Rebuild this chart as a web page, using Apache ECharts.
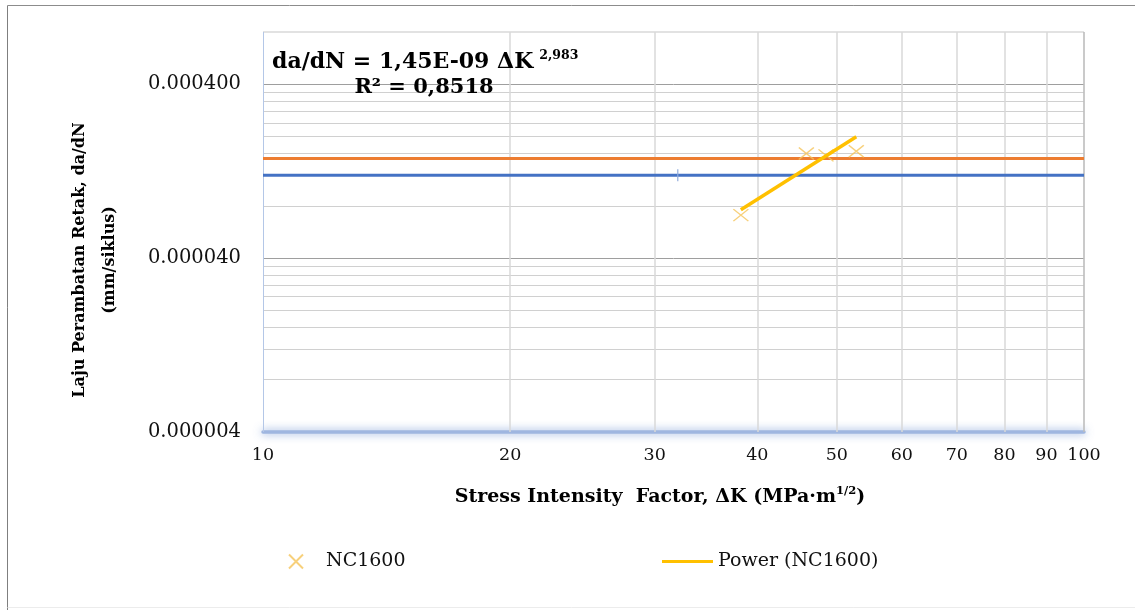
<!DOCTYPE html>
<html>
<head>
<meta charset="utf-8">
<script src="https://cdn.jsdelivr.net/npm/echarts@6/dist/echarts.min.js"></script>
<style>
  html, body { margin: 0; padding: 0; background: #fff; }
  #chart { width: 1135px; height: 610px; }
</style>
</head>
<body>
<div id="chart"></div>
<script>
// Stress intensity range ΔK (MPa·m^1/2) and crack growth rate da/dN (mm/siklus)
const dkTicks = [10, 20, 30, 40, 50, 60, 70, 80, 90, 100];
const rateTicks = [0.000004, 0.00004, 0.0004];
const rateTickLabels = ['0.000004', '0.000040', '0.000400'];
const rateMax = 0.0008;

// NC1600 measurements
const nc1600Dk = [38.2, 45.9, 48.5, 52.8];
const nc1600Rate = [0.0000707, 0.000160, 0.000156, 0.000165];

// Power trend line: da/dN = C · ΔK^m over the measured range
const powerC = 1.45e-9;
const powerM = 2.983;
const powerR2 = '0,8518';
const powerRange = [38.2, 52.8];

// Reference levels
const levelOrange = 0.00015;
const levelBlue = 0.00012;
const levelRange = [10, 100];
const markerBlue = [32, 0.00012];

const serif = 'DejaVu Serif';
const dkMin = dkTicks[0];
const dkMax = dkTicks[dkTicks.length - 1];

// text width helper for placing superscripts
const measureCtx = document.createElement('canvas').getContext('2d');
function textWidth(str, size, weight) {
  measureCtx.font = (weight || 'normal') + ' ' + size + 'px "' + serif + '"';
  return measureCtx.measureText(str).width;
}

// gridlines: minor steps inside each decade
const minorRates = [];
[0.000004, 0.00004].forEach(function (base) {
  for (let k = 2; k <= 9; k++) minorRates.push(+(base * k).toPrecision(3));
});

function hLine(v, style, label) {
  return [
    { coord: [dkMin, v], lineStyle: style, label: label || { show: false } },
    { coord: [dkMax, v] }
  ];
}
function vLine(v, style, label) {
  return [
    { coord: [v, rateTicks[0]], lineStyle: style, label: label || { show: false } },
    { coord: [v, rateMax] }
  ];
}

const gridLines = [];
minorRates.forEach(function (v) {
  gridLines.push(hLine(v, { color: '#d0d0d0', width: 1.2, type: 'solid' }));
});
gridLines.push(hLine(rateMax, { color: '#d9d9d9', width: 1.5, type: 'solid' }));
rateTicks.forEach(function (v, i) {
  gridLines.push(hLine(v, { color: i === 0 ? 'rgba(0,0,0,0)' : '#9e9e9e', width: 1, type: 'solid' }, {
    show: true, position: 'start', formatter: rateTickLabels[i], distance: 22,
    fontFamily: serif, fontSize: 19.5, color: '#111'
  }));
});
dkTicks.forEach(function (v, i) {
  const first = i === 0, last = i === dkTicks.length - 1;
  gridLines.push(vLine(v, {
    color: first ? '#b4c7e7' : (last ? '#bdbdbd' : '#d9d9d9'),
    width: first ? 1 : (last ? 1.6 : 1.5), type: 'solid'
  }, {
    show: true, position: 'start', formatter: String(v), distance: 14,
    fontFamily: serif, fontSize: 17.5, color: '#111'
  }));
});

const nc1600 = nc1600Dk.map(function (d, i) { return [d, nc1600Rate[i]]; });
const powerLine = powerRange.map(function (d) { return [d, powerC * Math.pow(d, powerM)]; });

// equation and axis title pieces
const eqMain = 'da/dN = 1,45E-09 ΔK';
const eqExp = String(powerM).replace('.', ',');
const eqSize = 22;
const eqMainW = textWidth(eqMain, eqSize, 'bold');
const xTitleMain = 'Stress Intensity  Factor, ΔK (MPa·m';
const xTitleSup = '1/2';
const xTitleEnd = ')';
const xTitleSize = 19, xTitleSupSize = 11.5;
const wMain = textWidth(xTitleMain, xTitleSize, 'bold');
const wSup = textWidth(xTitleSup, xTitleSupSize, 'bold');
const wEnd = textWidth(xTitleEnd, xTitleSize, 'bold');
const xTitleLeft = 660 - (wMain + wSup + wEnd) / 2;

const chart = echarts.init(document.getElementById('chart'), null, { renderer: 'canvas' });
chart.setOption({
  animation: false,
  backgroundColor: '#fff',
  grid: { left: 263, right: 51, top: 32, bottom: 178, containLabel: false },
  xAxis: {
    type: 'log', logBase: 10, min: dkMin, max: dkMax,
    axisLine: { show: true, lineStyle: { color: '#9fb6e0', width: 3.5,
      shadowBlur: 8, shadowColor: 'rgba(68,114,196,0.7)' } },
    axisTick: { show: false },
    axisLabel: { show: false },
    splitLine: { show: false }
  },
  yAxis: {
    type: 'log', logBase: 10, min: rateTicks[0], max: rateMax,
    axisLine: { show: false },
    axisTick: { show: false },
    axisLabel: { show: false },
    splitLine: { show: false }
  },
  legend: [
    {
      data: ['NC1600'], left: 283, top: 547, itemWidth: 14, itemHeight: 14,
      textStyle: { fontFamily: serif, fontSize: 19, color: '#111', padding: [0, 0, 0, 18] },
      selectedMode: false
    },
    {
      data: [{ name: 'Power (NC1600)', icon: 'rect' }], left: 657, top: 547,
      itemWidth: 51, itemHeight: 3,
      textStyle: { fontFamily: serif, fontSize: 19, color: '#111', padding: [0, 0, 0, 0] },
      selectedMode: false
    }
  ],
  graphic: [
    { type: 'line', shape: { x1: 7.5, y1: 5.5, x2: 7.5, y2: 610 },
      style: { stroke: '#7f7f7f', lineWidth: 1 }, z: 100, silent: true },
    { type: 'line', shape: { x1: 7.5, y1: 5.5, x2: 1135, y2: 5.5 },
      style: { stroke: '#8c8c8c', lineWidth: 1 }, z: 100, silent: true },
    { type: 'line', shape: { x1: 7.5, y1: 607.5, x2: 1135, y2: 607.5 },
      style: { stroke: '#ececec', lineWidth: 1 }, z: 100, silent: true },
    { type: 'text', x: 272, y: 62, z: 100,
      style: { text: eqMain, fontFamily: serif, fontWeight: 'bold', fontSize: eqSize,
        fill: '#000', verticalAlign: 'middle' } },
    { type: 'text', x: 272 + eqMainW + 6, y: 56, z: 100,
      style: { text: eqExp, fontFamily: serif, fontWeight: 'bold', fontSize: 12.5,
        fill: '#000', verticalAlign: 'middle' } },
    { type: 'text', x: 424, y: 88, z: 100,
      style: { text: 'R² = ' + powerR2, fontFamily: serif, fontWeight: 'bold', fontSize: 21,
        fill: '#000', align: 'center', verticalAlign: 'middle' } },
    { type: 'text', x: xTitleLeft, y: 497, z: 100,
      style: { text: xTitleMain, fontFamily: serif, fontWeight: 'bold', fontSize: xTitleSize,
        fill: '#000', verticalAlign: 'middle' } },
    { type: 'text', x: xTitleLeft + wMain, y: 491, z: 100,
      style: { text: xTitleSup, fontFamily: serif, fontWeight: 'bold', fontSize: xTitleSupSize,
        fill: '#000', verticalAlign: 'middle' } },
    { type: 'text', x: xTitleLeft + wMain + wSup, y: 497, z: 100,
      style: { text: xTitleEnd, fontFamily: serif, fontWeight: 'bold', fontSize: xTitleSize,
        fill: '#000', verticalAlign: 'middle' } },
    { type: 'text', x: 80, y: 260, rotation: Math.PI / 2, z: 100,
      style: { text: 'Laju Perambatan Retak, da/dN', fontFamily: serif, fontWeight: 'bold', fontSize: 16,
        fill: '#000', align: 'center', verticalAlign: 'middle' } },
    { type: 'text', x: 110, y: 260, rotation: Math.PI / 2, z: 100,
      style: { text: '(mm/siklus)', fontFamily: serif, fontWeight: 'bold', fontSize: 16,
        fill: '#000', align: 'center', verticalAlign: 'middle' } }
  ],
  series: [
    {
      name: 'grid', type: 'line', z: 1, silent: true,
      data: [[dkMin, rateTicks[0]]], showSymbol: false, symbol: 'none',
      lineStyle: { opacity: 0 },
      markLine: { silent: true, symbol: ['none', 'none'], animation: false, data: gridLines }
    },
    {
      name: 'Level A', type: 'line', z: 10, symbol: 'none', silent: true,
      data: levelRange.map(function (d) { return [d, levelOrange]; }),
      lineStyle: { color: '#ED7D31', width: 3 }
    },
    {
      name: 'Level B', type: 'line', z: 10, symbol: 'none', silent: true,
      data: levelRange.map(function (d) { return [d, levelBlue]; }),
      lineStyle: { color: '#4472C4', width: 3 }
    },
    {
      name: 'Marker B', type: 'scatter', z: 11, silent: true,
      data: [markerBlue], symbol: 'rect', symbolSize: [1.5, 12],
      itemStyle: { color: '#8eaadb' }
    },
    {
      name: 'NC1600', type: 'scatter', z: 12,
      data: nc1600,
      symbol: 'path://M0,0L10,10M10,0L0,10', symbolSize: [15, 12],
      itemStyle: { color: 'rgba(0,0,0,0)', borderColor: '#F5C45A', borderWidth: 1.4 }
    },
    {
      name: 'Power (NC1600)', type: 'line', z: 13, symbol: 'none',
      data: powerLine,
      lineStyle: { color: '#FFC000', width: 3.5 },
      itemStyle: { color: '#FFC000' }
    }
  ]
});
</script>
</body>
</html>
